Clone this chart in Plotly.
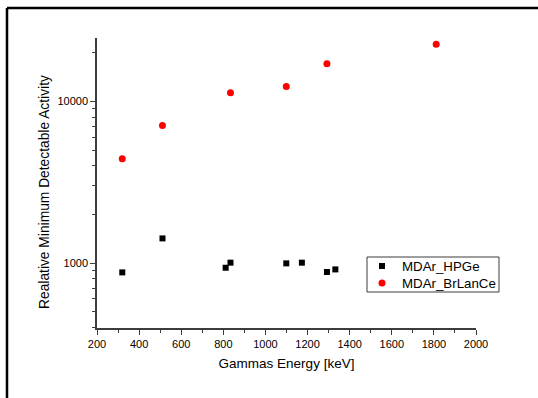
import plotly.graph_objects as go

# Gamma line energies (keV) and relative MDA per detector
hpge_energy = [320, 511, 811, 834, 1099, 1173, 1292, 1332]
hpge_mda = [875, 1420, 935, 1005, 995, 1005, 880, 913]

brlance_energy = [320, 511, 834, 1099, 1292, 1811]
brlance_mda = [4420, 7080, 11320, 12380, 17100, 22550]

series_names = ["MDAr_HPGe", "MDAr_BrLanCe"]

x_tick_vals = [200, 400, 600, 800, 1000, 1200, 1400, 1600, 1800, 2000]
y_tick_vals = [1000, 10000]
y_minor_vals = [400, 500, 600, 700, 800, 900,
                2000, 3000, 4000, 5000, 6000, 7000, 8000, 9000, 20000]

FONT = "Liberation Sans, Arial, sans-serif"
AXIS_COLOR = "#3c3c3c"
RED = "#ff0000"

fig = go.Figure()
fig.add_trace(go.Scatter(
    x=hpge_energy, y=hpge_mda, mode="markers", name=series_names[0],
    marker=dict(symbol="square", size=6, color="black"),
))
fig.add_trace(go.Scatter(
    x=brlance_energy, y=brlance_mda, mode="markers", name=series_names[1],
    marker=dict(symbol="circle", size=7, color=RED),
))

W, H = 538, 398
L, R, T, B = 97, 62, 38, 70
pw, ph = W - L - R, H - T - B


def px(x):
    return (x - L) / pw


def py(y):
    return (H - B - y) / ph


fig.update_layout(
    width=W, height=H,
    margin=dict(l=L, r=R, t=T, b=B, pad=0),
    paper_bgcolor="white", plot_bgcolor="white",
    font=dict(family=FONT, color="black", size=11),
    showlegend=False,
    xaxis=dict(
        range=[200, 2000], tickvals=x_tick_vals,
        showgrid=False, zeroline=False,
        showline=True, linecolor=AXIS_COLOR, linewidth=1.5,
        ticks="outside", ticklen=5, tickwidth=1, tickcolor=AXIS_COLOR,
        tickfont=dict(size=11),
        minor=dict(dtick=100, ticks="outside", ticklen=3, tickcolor=AXIS_COLOR, showgrid=False),
        title=dict(text="Gammas Energy [keV]", font=dict(size=13.5), standoff=10),
    ),
    yaxis=dict(
        type="log", range=[2.598, 4.392], tickvals=y_tick_vals,
        ticktext=["1000", "10000"],
        showgrid=False, zeroline=False,
        showline=True, linecolor=AXIS_COLOR, linewidth=1.5,
        ticks="outside", ticklen=5, tickwidth=1, tickcolor=AXIS_COLOR,
        tickfont=dict(size=11),
        minor=dict(tickvals=y_minor_vals, ticks="outside", ticklen=3, tickcolor=AXIS_COLOR, showgrid=False),
    ),
)

# Y axis title, placed slightly below the plot-area centre
fig.add_annotation(xref="paper", yref="paper", x=px(44.5), y=py(192.5),
                   xanchor="center", yanchor="middle", showarrow=False, textangle=-90,
                   text="Realative Minimum Detectable Activity",
                   font=dict(family=FONT, size=13.8, color="black"))

# Outer frame around the figure (left and top edges visible)
fx0, fy0 = px(7), py(8)
fig.add_shape(type="line", xref="paper", yref="paper",
              x0=fx0, x1=fx0, y0=fy0, y1=-1, line=dict(color="black", width=2.5))
fig.add_shape(type="line", xref="paper", yref="paper",
              x0=fx0, x1=2, y0=fy0, y1=fy0, line=dict(color="black", width=2.5))

# Compact boxed legend
box_l, box_r, box_t, box_b = 367, 499, 257, 292
fig.add_shape(type="rect", xref="paper", yref="paper",
              x0=px(box_l), x1=px(box_r), y0=py(box_b), y1=py(box_t),
              line=dict(color=AXIS_COLOR, width=1), fillcolor="white", layer="above")
row_y = [266, 283]
mx = 382
fig.add_shape(type="rect", xref="paper", yref="paper",
              x0=px(mx - 3), x1=px(mx + 3), y0=py(row_y[0] + 3), y1=py(row_y[0] - 3),
              line=dict(width=0), fillcolor="black", layer="above")
fig.add_shape(type="circle", xref="paper", yref="paper",
              x0=px(mx - 3.5), x1=px(mx + 3.5), y0=py(row_y[1] + 3.5), y1=py(row_y[1] - 3.5),
              line=dict(width=0), fillcolor=RED, layer="above")
for name, ry in zip(series_names, row_y):
    fig.add_annotation(xref="paper", yref="paper", x=px(400), y=py(ry),
                       xanchor="left", yanchor="middle", showarrow=False,
                       text=name, font=dict(family=FONT, size=13.3, color="black"))

fig.write_html("out.html")
